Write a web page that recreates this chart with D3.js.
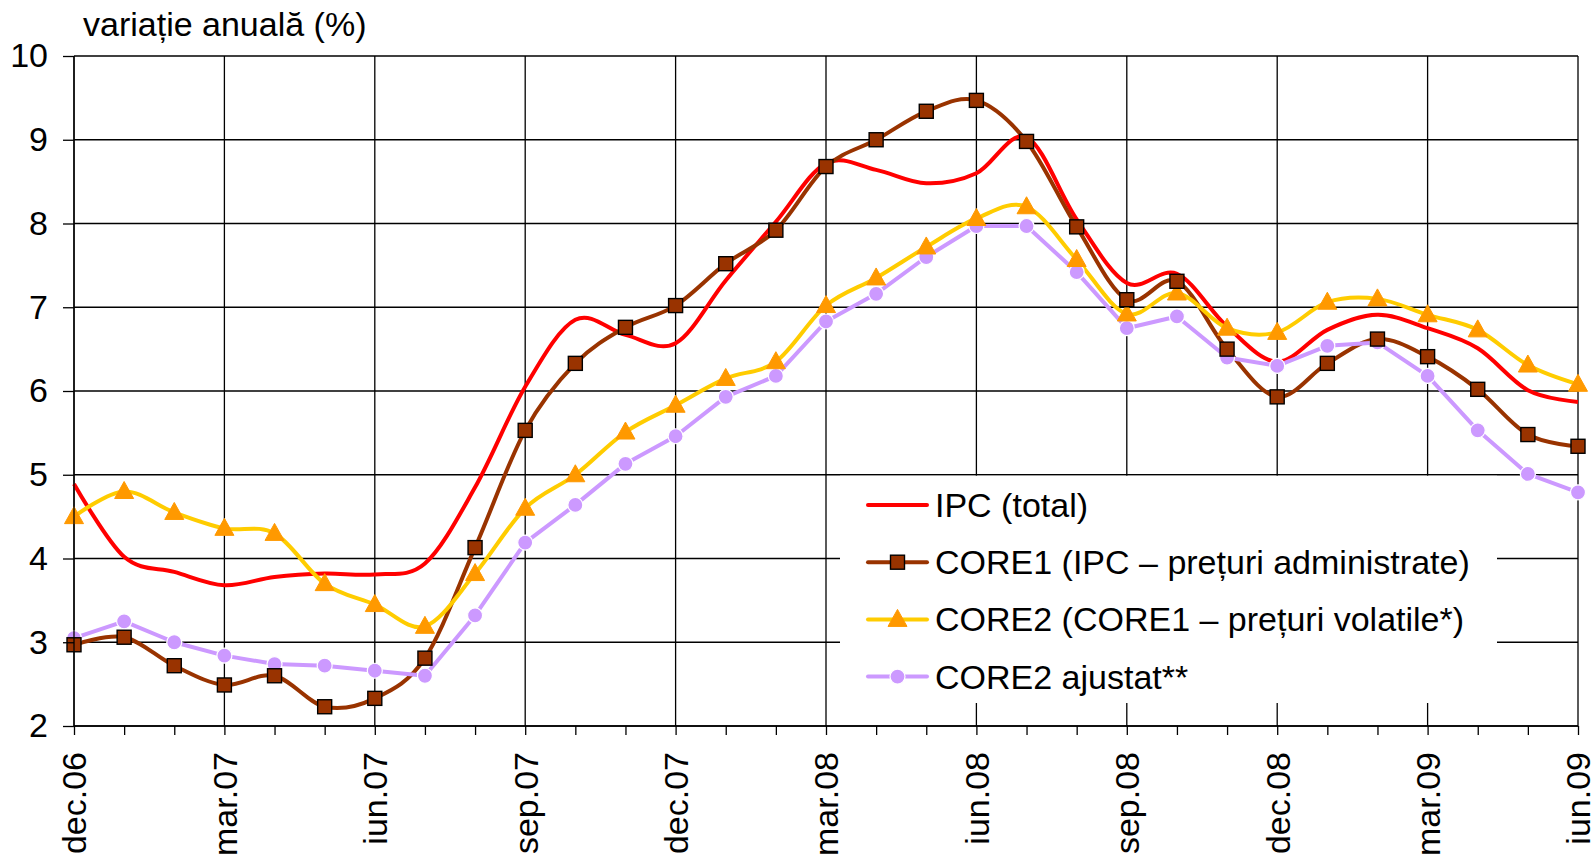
<!DOCTYPE html>
<html>
<head>
<meta charset="utf-8">
<script src="https://cdn.jsdelivr.net/npm/d3@7"></script>
<style>
  body { margin: 0; background: #fff; }
  svg { display: block; font-family: "Liberation Sans", Arial, sans-serif; }
  .axis path, .axis line { stroke: #000; stroke-width: 1.3; }
  .axis text { font-size: 34px; fill: #000; }
</style>
</head>
<body>
<div class="layout"></div>
<script>
// months dec.06 .. jun.09 (31 monthly points)
var months = ["dec.06","ian.07","feb.07","mar.07","apr.07","mai.07","iun.07","iul.07","aug.07","sep.07","oct.07","nov.07",
              "dec.07","ian.08","feb.08","mar.08","apr.08","mai.08","iun.08","iul.08","aug.08","sep.08","oct.08","nov.08",
              "dec.08","ian.09","feb.09","mar.09","apr.09","mai.09","iun.09"];

var ipc   = [4.89, 4.02, 3.84, 3.68, 3.78, 3.82, 3.81, 3.94, 4.85, 6.05, 6.85, 6.67, 6.57, 7.32, 8.02, 8.72,
             8.64, 8.48, 8.60, 9.03, 8.05, 7.29, 7.40, 6.77, 6.35, 6.73, 6.91, 6.75, 6.51, 6.01, 5.87];
var core1 = [2.97, 3.06, 2.72, 2.49, 2.60, 2.23, 2.33, 2.81, 4.13, 5.53, 6.33, 6.76, 7.02, 7.52, 7.92, 8.68,
             9.00, 9.34, 9.47, 8.98, 7.96, 7.09, 7.31, 6.50, 5.93, 6.33, 6.62, 6.41, 6.02, 5.48, 5.34];
var core2 = [4.50, 4.80, 4.55, 4.36, 4.30, 3.70, 3.45, 3.19, 3.82, 4.60, 5.00, 5.51, 5.83, 6.15, 6.35, 7.02,
             7.35, 7.72, 8.06, 8.20, 7.57, 6.92, 7.17, 6.75, 6.70, 7.06, 7.10, 6.91, 6.73, 6.31, 6.08];
var core2adj = [3.05, 3.25, 3.00, 2.84, 2.74, 2.72, 2.66, 2.60, 3.32, 4.19, 4.64, 5.13, 5.46, 5.93, 6.18, 6.83,
             7.16, 7.60, 7.97, 7.97, 7.42, 6.75, 6.89, 6.40, 6.30, 6.54, 6.58, 6.18, 5.53, 5.01, 4.79];

var yTicks = [2, 3, 4, 5, 6, 7, 8, 9, 10];
var seriesNames = ["IPC (total)", "CORE1 (IPC – prețuri administrate)",
                   "CORE2 (CORE1 – prețuri volatile*)", "CORE2 ajustat**"];

var width = 1596, height = 858;
var plot = {left: 74, right: 1578, top: 56, bottom: 726};

var series = [
  {name: seriesNames[0], values: ipc,      color: "#ff0000", curve: d3.curveCardinal, marker: null},
  {name: seriesNames[1], values: core1,    color: "#993300", curve: d3.curveCardinal, marker: "square"},
  {name: seriesNames[2], values: core2,    color: "#ffcc00", curve: d3.curveCardinal, marker: "triangle"},
  {name: seriesNames[3], values: core2adj, color: "#cc99ff", curve: d3.curveLinear,   marker: "circle"}
];

var x = d3.scaleLinear().domain([0, months.length - 1]).range([plot.left, plot.right]);
var y = d3.scaleLinear().domain([2, 10]).range([plot.bottom, plot.top]);

var svg = d3.select(".layout").append("svg")
    .attr("width", width)
    .attr("height", height);

// grid
svg.append("g").selectAll("line")
    .data(yTicks)
  .enter().append("line")
    .attr("x1", plot.left).attr("x2", plot.right)
    .attr("y1", function(d) { return y(d); })
    .attr("y2", function(d) { return y(d); })
    .attr("stroke", "#000").attr("stroke-width", 1.3);

svg.append("g").selectAll("line")
    .data(d3.range(0, months.length, 3))
  .enter().append("line")
    .attr("x1", function(d) { return x(d); })
    .attr("x2", function(d) { return x(d); })
    .attr("y1", plot.top).attr("y2", plot.bottom)
    .attr("stroke", "#000").attr("stroke-width", 1.3);

// lines
series.forEach(function(s) {
  var line = d3.line()
      .x(function(d, i) { return x(i); })
      .y(function(d) { return y(d); })
      .curve(s.curve);
  svg.append("path")
      .datum(s.values)
      .attr("fill", "none")
      .attr("stroke", s.color)
      .attr("stroke-width", 4)
      .attr("stroke-linejoin", "round")
      .attr("d", line);
});

function drawMarker(g, type, cx, cy) {
  if (type === "square") {
    g.append("rect")
        .attr("x", cx - 7).attr("y", cy - 7)
        .attr("width", 14).attr("height", 14)
        .attr("fill", "#993300").attr("stroke", "#000").attr("stroke-width", 1.4);
  } else if (type === "triangle") {
    g.append("path")
        .attr("d", "M" + cx + "," + (cy - 10) + "L" + (cx + 9.5) + "," + (cy + 7) + "L" + (cx - 9.5) + "," + (cy + 7) + "Z")
        .attr("fill", "#ff9900").attr("stroke", "#ff9900").attr("stroke-width", 1);
  } else if (type === "circle") {
    g.append("circle")
        .attr("cx", cx).attr("cy", cy).attr("r", 7.5)
        .attr("fill", "#cc99ff").attr("stroke", "#fff").attr("stroke-width", 1.2);
  }
}

// markers: adjusted first so squares/triangles sit on top as in the original
[3, 2, 1].forEach(function(k) {
  var s = series[k];
  var g = svg.append("g");
  s.values.forEach(function(v, i) { drawMarker(g, s.marker, x(i), y(v)); });
});

// axes
var yAxis = d3.axisLeft(y).tickValues(yTicks).tickSize(11).tickPadding(15).tickFormat(d3.format("d"));
svg.append("g")
    .attr("class", "y axis")
    .attr("transform", "translate(" + plot.left + ",0)")
    .call(yAxis)
    .call(function(g) { g.select(".domain").attr("d", "M0," + plot.top + "V" + plot.bottom); });

var xAxis = d3.axisBottom(x)
    .tickValues(d3.range(months.length))
    .tickSize(9)
    .tickFormat(function(i) { return i % 3 === 0 ? months[i] : ""; });
svg.append("g")
    .attr("class", "x axis")
    .attr("transform", "translate(0," + plot.bottom + ")")
    .call(xAxis)
    .call(function(g) { g.select(".domain").attr("d", "M" + plot.left + ",0H" + plot.right); })
  .selectAll("text")
    .attr("y", 0)
    .attr("x", -26)
    .attr("dy", "0.35em")
    .attr("transform", "rotate(-90)")
    .style("text-anchor", "end");

// title
svg.append("text")
    .attr("x", 83)
    .attr("y", 36)
    .style("font-size", "34px")
    .text("variație anuală (%)");

// legend
var legend = svg.append("g");
legend.append("rect")
    .attr("x", 840).attr("y", y(5) + 1)
    .attr("width", 657).attr("height", 703 - y(5) - 1)
    .attr("fill", "#fff");

series.forEach(function(s, i) {
  var ly = 505 + i * 57.2;
  var row = legend.append("g");
  row.append("line")
      .attr("x1", 868).attr("x2", 927)
      .attr("y1", ly).attr("y2", ly)
      .attr("stroke", s.color).attr("stroke-width", 4).attr("stroke-linecap", "round");
  if (s.marker) drawMarker(row, s.marker, 897.5, ly);
  row.append("text")
      .attr("x", 935).attr("y", ly)
      .attr("dy", "0.35em")
      .style("font-size", "34px")
      .text(s.name);
});
</script>
</body>
</html>
